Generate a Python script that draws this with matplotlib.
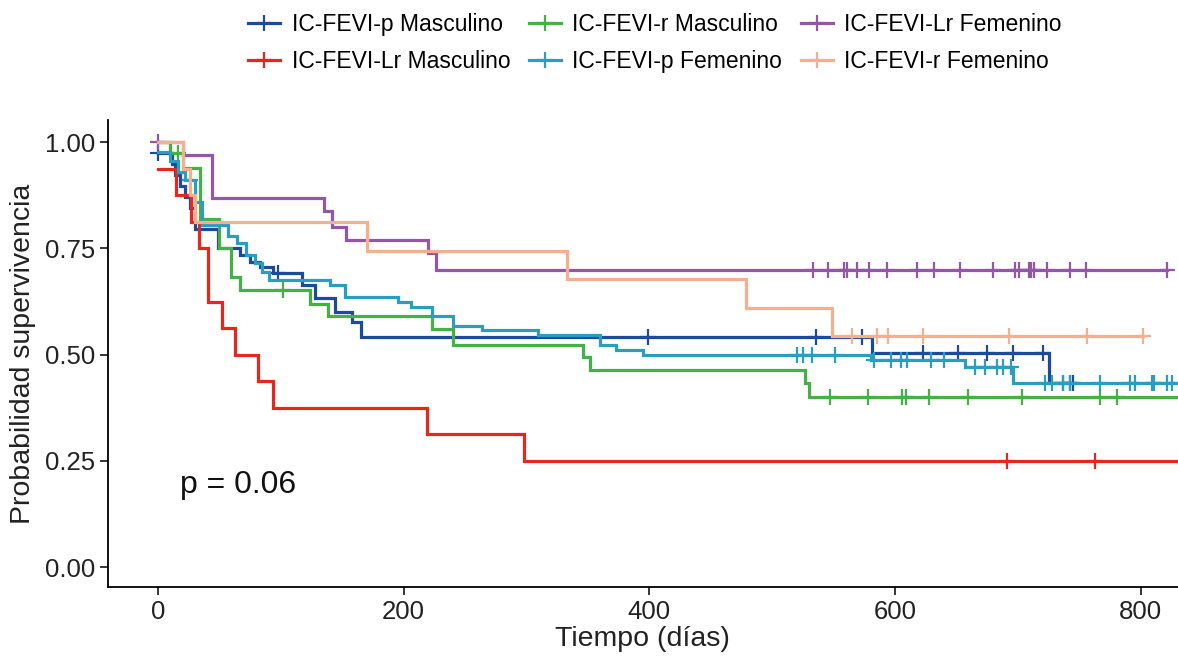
import numpy as np
import matplotlib
matplotlib.use("Agg")
import matplotlib.pyplot as plt
from matplotlib.lines import Line2D

plt.rcParams['font.family'] = ['Liberation Sans', 'DejaVu Sans']

# group names, in the order the strata are drawn
labels = ['IC-FEVI-p Masculino', 'IC-FEVI-Lr Masculino', 'IC-FEVI-r Masculino',
          'IC-FEVI-p Femenino', 'IC-FEVI-Lr Femenino', 'IC-FEVI-r Femenino']
colors = ['#1D4B9B', '#E5281E', '#45B045', '#2A9EC0', '#9456A6', '#F6AF8E']

# IC-FEVI-p Masculino
t_p_m = [0, 11, 14, 18, 22, 26, 30, 49, 67, 75, 83, 94, 117, 128, 144, 158, 165, 581, 725]
s_p_m = [0.974, 0.949, 0.923, 0.897, 0.872, 0.846, 0.795, 0.75, 0.734, 0.718, 0.706, 0.692,
         0.664, 0.633, 0.60, 0.576, 0.541, 0.505, 0.433]
c_p_m = [0, 98, 399, 536, 573, 623, 651, 675, 696, 720, 737, 742, 745]
end_p_m = 745

# IC-FEVI-Lr Masculino
t_lr_m = [0, 15, 27, 33, 41, 52, 63, 81, 94, 219, 298]
s_lr_m = [0.9375, 0.875, 0.8125, 0.75, 0.625, 0.5625, 0.5, 0.4375, 0.375, 0.3125, 0.25]
c_lr_m = [691, 763]
end_lr_m = 850

# IC-FEVI-r Masculino
t_r_m = [0, 10, 20, 34, 50, 59, 67, 124, 138, 223, 240, 346, 352, 527, 530]
s_r_m = [1.0, 0.975, 0.94, 0.82, 0.75, 0.682, 0.652, 0.62, 0.59, 0.56, 0.522, 0.494, 0.463,
         0.433, 0.40]
c_r_m = [16, 102, 547, 578, 606, 609, 628, 659, 703, 767, 781]
end_r_m = 850

# IC-FEVI-p Femenino
t_p_f = [0, 10, 16, 22, 30, 36, 57, 64, 72, 79, 85, 90, 140, 152, 195, 206, 223, 240, 264,
         309, 360, 373, 395, 580, 657, 696]
s_p_f = [0.977, 0.955, 0.93, 0.91, 0.86, 0.805, 0.78, 0.762, 0.734, 0.715, 0.694, 0.675,
         0.664, 0.635, 0.624, 0.612, 0.59, 0.567, 0.558, 0.546, 0.522, 0.51, 0.499, 0.487,
         0.47, 0.433]
c_p_f = [26, 520, 525, 532, 551, 583, 597, 605, 610, 629, 640, 665, 673, 683, 688, 694,
         722, 728, 737, 742, 767, 791, 795, 809, 811, 821, 825]
end_p_f = 850

# IC-FEVI-Lr Femenino
t_lr_f = [0, 20, 44, 135, 142, 153, 220, 226]
s_lr_f = [1.0, 0.97, 0.868, 0.838, 0.80, 0.77, 0.739, 0.70]
c_lr_f = [0, 533, 545, 558, 561, 569, 579, 593, 618, 632, 653, 680, 698, 701, 709, 711,
          713, 724, 742, 755, 821]
end_lr_f = 821

# IC-FEVI-r Femenino
t_r_f = [0, 20, 26, 30, 170, 333, 479, 549]
s_r_f = [1.0, 0.9375, 0.875, 0.8125, 0.745, 0.678, 0.61, 0.543]
c_r_f = [565, 585, 594, 623, 693, 756, 802]
end_r_f = 802

curves = [(t_p_m, s_p_m, c_p_m, end_p_m), (t_lr_m, s_lr_m, c_lr_m, end_lr_m),
          (t_r_m, s_r_m, c_r_m, end_r_m), (t_p_f, s_p_f, c_p_f, end_p_f),
          (t_lr_f, s_lr_f, c_lr_f, end_lr_f), (t_r_f, s_r_f, c_r_f, end_r_f)]

fig = plt.figure(figsize=(11.78, 6.64), dpi=100)
ax = fig.add_axes([0.0917, 0.116, 0.908, 0.703])

for (t, s, c, end), col in zip(curves, colors):
    t = np.array(t, dtype=float)
    s = np.array(s, dtype=float)
    xs = np.append(t, end)
    ys = np.append(s, s[-1])
    ax.step(xs, ys, where='post', color=col, lw=2.3, solid_joinstyle='miter')
    c = np.array(c, dtype=float)
    cy = s[np.searchsorted(t, c, side='right') - 1]
    ax.plot(c, cy, ls='none', marker='+', ms=11, mew=1.6, color=col)

ax.text(18, 0.193, 'p = 0.06', fontsize=23, ha='left', va='center', color='#111111')

ax.set_xlim(-40.7, 830)
ax.set_ylim(-0.047, 1.052)
ax.set_xticks([0, 200, 400, 600, 800])
ax.set_yticks([0, 0.25, 0.5, 0.75, 1.0])
ax.set_yticklabels(['0.00', '0.25', '0.50', '0.75', '1.00'])
ax.tick_params(labelsize=18.5, length=6, width=1.1, colors='black', labelcolor='#222222')
for side in ['top', 'right']:
    ax.spines[side].set_visible(False)
for side in ['left', 'bottom']:
    ax.spines[side].set_linewidth(1.3)
ax.set_xlabel('Tiempo (días)', fontsize=20.5, color='#222222', labelpad=1)
ax.set_ylabel('Probabilidad supervivencia', fontsize=20.5, color='#222222', labelpad=6)

handles = [Line2D([], [], color=col, lw=2.3, marker='+', ms=11, mew=1.6) for col in colors]
fig.legend(handles, labels, ncol=3, loc='upper center', bbox_to_anchor=(0.556, 1.012),
           frameon=False, fontsize=16.5, handlelength=1.4, handletextpad=0.5,
           columnspacing=0.8, labelspacing=0.62)

fig.savefig('out.png', dpi=100)
